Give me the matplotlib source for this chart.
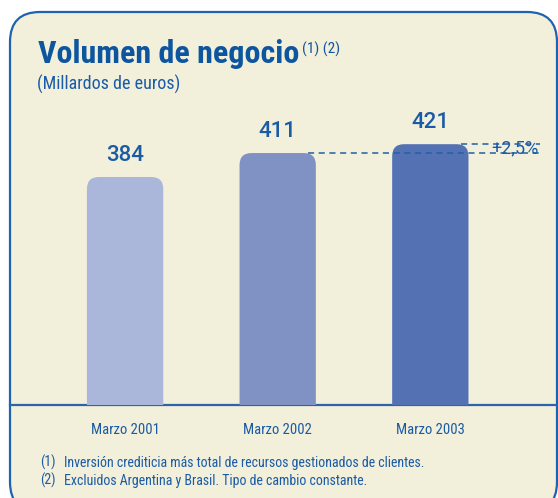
import matplotlib
matplotlib.use("Agg")
import matplotlib.pyplot as plt
from matplotlib.patches import FancyBboxPatch

# data
categories = ["Marzo 2001", "Marzo 2002", "Marzo 2003"]
values = [384, 411, 421]
bar_colors = ["#AAB7DA", "#8092C4", "#5472B3"]
growth_label = "+2,5%"
title = "Volumen de negocio"
title_notes = "(1) (2)"
subtitle = "(Millardos de euros)"
footnotes = [
    ("(1)", "Inversión crediticia más total de recursos gestionados de clientes."),
    ("(2)", "Excluidos Argentina y Brasil. Tipo de cambio constante."),
]

BLUE = "#1A5BA6"
DARK = "#0E55A0"
CREAM = "#F2EFDB"
COND = ["Roboto Condensed", "DejaVu Sans"]
W, H = 558, 498


def fx(px):
    return px / W


def fy(py):
    return 1 - py / H


fig = plt.figure(figsize=(W / 100, H / 100), dpi=100)
fig.patch.set_facecolor("white")

# background panel
bg = fig.add_axes([0, 0, 1, 1])
bg.set_xlim(0, W)
bg.set_ylim(H, 0)
bg.axis("off")
panel = FancyBboxPatch((10, 12), 547, 500, boxstyle="round,pad=0,rounding_size=30",
                       facecolor=CREAM, edgecolor="#1E63B0", linewidth=1.6)
bg.add_patch(panel)
bg.plot([10, 557], [405, 405], color="#2A64AC", linewidth=1.6)

# bar axes
ax = fig.add_axes([fx(10), fy(405), fx(547), fy(12) - fy(405)])
ax.set_facecolor("none")
ymin, ymax = 127, 570
ax.set_xlim(-0.754, 2.83)
ax.set_ylim(ymin, ymax)
ax.axis("off")

bar_w = 0.5
px_x = (ax.get_position().width * W) / (2.83 + 0.754)
px_y = (ax.get_position().height * H) / (ymax - ymin)
aspect = px_x / px_y
for i, (v, c) in enumerate(zip(values, bar_colors)):
    patch = FancyBboxPatch((i - bar_w / 2, ymin - 40), bar_w, v - ymin + 40,
                           boxstyle="round,pad=0,rounding_size=%f" % (12 / px_x),
                           mutation_aspect=aspect, facecolor=c, edgecolor="none")
    ax.add_patch(patch)
    ax.annotate(str(v), (i, v), xytext=(0, 8), textcoords="offset points",
                ha="center", va="bottom", fontsize=16, color=BLUE,
                family="Roboto", fontweight="medium")

# dashed comparison lines
ax.hlines(values[1], 1 + 0.2, 2.72, colors="#2060A8", linewidth=1.1,
          linestyles=(0, (4, 3)), zorder=5)
ax.hlines(values[2], 2 + 0.2, 2.72, colors="#2060A8", linewidth=1.1,
          linestyles=(0, (4, 3)), zorder=5)
ax.text(2.71, (values[1] + values[2]) / 2, growth_label, ha="right", va="center",
        fontsize=13, color=BLUE, family="Roboto", zorder=6)

# titles
t = fig.text(fx(38), fy(63), title, fontsize=23, color=DARK, family=COND,
             fontweight="bold", va="baseline")
fig.canvas.draw()
bb = t.get_window_extent()
fig.text(bb.x1 / W + fx(3), fy(54), title_notes, fontsize=11, color=DARK,
         family=COND, va="baseline")
fig.text(fx(37), fy(90), subtitle, fontsize=13, color=BLUE, family=COND,
         va="baseline")

# category labels
for i, cat in enumerate(categories):
    xd = ax.transData.transform((i, ymin))[0] / W
    fig.text(xd, fy(434), cat, ha="center", va="baseline", fontsize=10.5,
             color=BLUE, family=COND)

# footnotes
for k, (num, txt) in enumerate(footnotes):
    yb = fy(467 + 18 * k)
    fig.text(fx(40), yb, num, fontsize=10, color=BLUE, family=COND, va="baseline")
    fig.text(fx(64), yb, txt, fontsize=10, color=BLUE, family=COND, va="baseline")

fig.savefig("out.png", dpi=100, facecolor="white")
